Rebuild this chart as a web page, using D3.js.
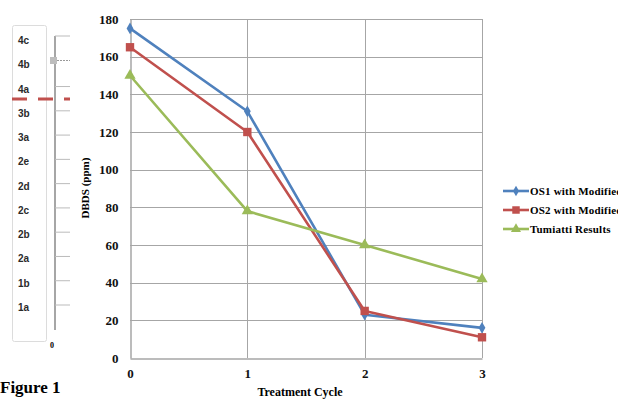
<!DOCTYPE html>
<html>
<head>
<meta charset="utf-8">
<script src="https://cdn.jsdelivr.net/npm/d3@7"></script>
<style>
  body { margin: 0; background: #fff; }
  svg { display: block; }
</style>
</head>
<body>
<svg id="chart" width="618" height="399"></svg>
<script>
// chart data
const cycles = [0, 1, 2, 3];
const os1 = [175, 131, 23, 16];
const os2 = [165, 120, 25, 11];
const tumiatti = [150, 78, 60, 42];
const seriesNames = ['OS1 with Modified Oil', 'OS2 with Modified Oil', 'Tumiatti Results'];
const yTicks = [0, 20, 40, 60, 80, 100, 120, 140, 160, 180];

// left strip (piece of another figure)
const gradeLabels = ['4c', '4b', '4a', '3b', '3a', '2e', '2d', '2c', '2b', '2a', '1b', '1a'];

const svg = d3.select('#chart');
const serif = 'Liberation Serif, Times New Roman, serif';

// ---- left strip ----
const gy = d3.scalePoint().domain(gradeLabels).range([40, 307]);
const left = svg.append('g');
left.append('rect')
  .attr('x', 12.5).attr('y', 25.5).attr('width', 34).attr('height', 316)
  .attr('rx', 2)
  .attr('fill', 'none').attr('stroke', '#dcdcdc');
left.selectAll('.gl')
  .data(gradeLabels)
  .enter().append('text')
  .attr('x', 18).attr('y', d => gy(d) + 4)
  .attr('font-family', 'Liberation Sans, Arial, sans-serif')
  .attr('font-weight', 'bold').attr('font-size', '10px')
  .attr('fill', '#2a2a2a')
  .text(d => d);
left.append('line')
  .attr('x1', 55).attr('x2', 55).attr('y1', 36).attr('y2', 330)
  .attr('stroke', '#888').attr('stroke-width', 1.5);
left.selectAll('.gt')
  .data(gradeLabels.filter(d => d !== '4b'))
  .enter().append('line')
  .attr('x1', 55).attr('x2', 70)
  .attr('y1', d => d === '4c' ? 36 : gy(d) - 2)
  .attr('y2', d => d === '4c' ? 36 : gy(d) - 2)
  .attr('stroke', '#bbb');
left.append('rect')
  .attr('x', 50).attr('y', 57).attr('width', 7).attr('height', 7)
  .attr('fill', '#bdbdbd');
left.append('line')
  .attr('x1', 57).attr('x2', 70).attr('y1', 60.5).attr('y2', 60.5)
  .attr('stroke', '#999').attr('stroke-dasharray', '2,1');
left.append('line')
  .attr('x1', 12).attr('x2', 70).attr('y1', 99).attr('y2', 99)
  .attr('stroke', '#c0504d').attr('stroke-width', 3)
  .attr('stroke-dasharray', '15,11');
left.append('text')
  .attr('x', 52).attr('y', 348)
  .attr('font-family', serif).attr('font-weight', 'bold').attr('font-size', '8px')
  .attr('text-anchor', 'middle')
  .text('0');

svg.append('clipPath').attr('id', 'figclip')
  .append('rect').attr('x', 0).attr('y', 370).attr('width', 66).attr('height', 29);
svg.append('text')
  .attr('x', 0).attr('y', 393)
  .attr('clip-path', 'url(#figclip)')
  .attr('font-family', serif).attr('font-weight', 'bold').attr('font-size', '17px')
  .text('Figure 1');

// ---- main chart ----
const x = d3.scaleLinear().domain([0, 3]).range([130, 482]);
const y = d3.scaleLinear().domain([0, 180]).range([358, 19]);

const grid = svg.append('g');
grid.selectAll('.hg')
  .data(yTicks.filter(d => d > 0))
  .enter().append('line')
  .attr('x1', x(0)).attr('x2', x(3))
  .attr('y1', d => Math.round(y(d)) + 0.5).attr('y2', d => Math.round(y(d)) + 0.5)
  .attr('stroke', '#a6a6a6');
grid.selectAll('.vg')
  .data(cycles.filter(d => d > 0))
  .enter().append('line')
  .attr('x1', d => Math.round(x(d)) + 0.5).attr('x2', d => Math.round(x(d)) + 0.5)
  .attr('y1', y(180)).attr('y2', y(0))
  .attr('stroke', '#a6a6a6');

// axes
const yAxis = svg.append('g')
  .attr('transform', `translate(${Math.round(x(0)) + 0.5},0)`)
  .call(d3.axisLeft(y).tickValues(yTicks).tickSize(0).tickPadding(12));
const xAxis = svg.append('g')
  .attr('transform', `translate(0,${Math.round(y(0)) + 0.5})`)
  .call(d3.axisBottom(x).tickValues(cycles).tickFormat(d3.format('d')).tickSize(0).tickPadding(10));
[yAxis, xAxis].forEach(a => {
  a.select('.domain').attr('stroke', '#a6a6a6').attr('stroke-width', 1.5);
  a.selectAll('text')
    .attr('font-family', serif).attr('font-weight', 'bold').attr('font-size', '13px')
    .attr('fill', '#111');
});

svg.append('text')
  .attr('transform', 'translate(89,188) rotate(-90)')
  .attr('text-anchor', 'middle')
  .attr('font-family', serif).attr('font-weight', 'bold').attr('font-size', '11px')
  .text('DBDS (ppm)');
svg.append('text')
  .attr('x', 300).attr('y', 396)
  .attr('text-anchor', 'middle')
  .attr('font-family', serif).attr('font-weight', 'bold').attr('font-size', '12px')
  .text('Treatment Cycle');

// series
const series = [
  {name: seriesNames[0], values: os1, color: '#4f81bd', symbol: d3.symbolDiamond, size: 40},
  {name: seriesNames[1], values: os2, color: '#c0504d', symbol: d3.symbolSquare, size: 70},
  {name: seriesNames[2], values: tumiatti, color: '#9bbb59', symbol: d3.symbolTriangle, size: 55}
];

const line = d3.line()
  .x((d, i) => x(cycles[i]))
  .y(d => y(d));

series.forEach(s => {
  const g = svg.append('g');
  g.append('path')
    .datum(s.values)
    .attr('d', line)
    .attr('fill', 'none')
    .attr('stroke', s.color)
    .attr('stroke-width', 2.6)
    .attr('stroke-linejoin', 'round');
  g.selectAll('.m')
    .data(s.values)
    .enter().append('path')
    .attr('transform', (d, i) => `translate(${x(cycles[i])},${y(d)})`)
    .attr('d', d3.symbol().type(s.symbol).size(s.size))
    .attr('fill', s.color);
});

// legend (the source image is cropped at the right edge)
const legend = svg.append('g');
const ly = d3.scalePoint().domain(seriesNames).range([191, 229]);
series.forEach(s => {
  const row = legend.append('g').attr('transform', `translate(0,${ly(s.name)})`);
  row.append('line')
    .attr('x1', 503).attr('x2', 529)
    .attr('stroke', s.color).attr('stroke-width', 2.6);
  row.append('path')
    .attr('transform', 'translate(516,0)')
    .attr('d', d3.symbol().type(s.symbol).size(s.size * 0.8))
    .attr('fill', s.color);
  row.append('text')
    .attr('x', 530).attr('y', 4)
    .attr('font-family', serif).attr('font-weight', 'bold').attr('font-size', '11px')
    .attr('letter-spacing', '0.2px')
    .text(s.name);
});
</script>
</body>
</html>
